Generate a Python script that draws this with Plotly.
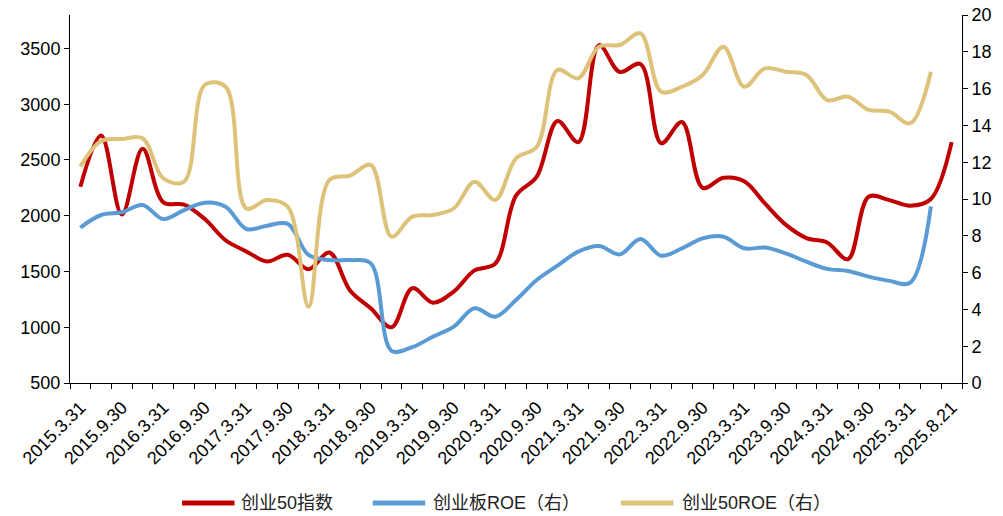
import plotly.graph_objects as go

# quarterly dates, last point is 2025.8.21
dates = ["2015.3.31", "2015.6.30", "2015.9.30", "2015.12.31",
         "2016.3.31", "2016.6.30", "2016.9.30", "2016.12.31",
         "2017.3.31", "2017.6.30", "2017.9.30", "2017.12.31",
         "2018.3.31", "2018.6.30", "2018.9.30", "2018.12.31",
         "2019.3.31", "2019.6.30", "2019.9.30", "2019.12.31",
         "2020.3.31", "2020.6.30", "2020.9.30", "2020.12.31",
         "2021.3.31", "2021.6.30", "2021.9.30", "2021.12.31",
         "2022.3.31", "2022.6.30", "2022.9.30", "2022.12.31",
         "2023.3.31", "2023.6.30", "2023.9.30", "2023.12.31",
         "2024.3.31", "2024.6.30", "2024.9.30", "2024.12.31",
         "2025.3.31", "2025.6.30", "2025.8.21"]

cyb50_index = [2260, 2720, 2010, 2600, 2120, 2100, 1970, 1780, 1680, 1590,
               1650, 1520, 1670, 1330, 1170, 1000, 1350, 1220, 1320, 1510,
               1570, 2180, 2350, 2850, 2660, 3530, 3290, 3360, 2650, 2840,
               2250, 2340, 2310, 2110, 1920, 1800, 1760, 1610, 2170, 2140,
               2090, 2150, 2660]

cyb_roe = [8.45, 9.13, 9.28, 9.67, 8.91, 9.40, 9.80, 9.58, 8.37, 8.55,
           8.65, 6.96, 6.68, 6.68, 6.50, 1.75, 1.95, 2.52, 3.06, 4.06,
           3.60, 4.51, 5.60, 6.38, 7.14, 7.45, 6.99, 7.83, 6.92, 7.32,
           7.86, 7.95, 7.32, 7.36, 7.05, 6.59, 6.20, 6.09, 5.78, 5.55,
           5.45, 9.60]

cyb50_roe = [11.76, 13.15, 13.26, 13.30, 11.12, 10.94, 16.2, 16.1, 9.49, 9.95,
             9.58, 4.15, 11.03, 11.27, 11.85, 7.95, 9.04, 9.13, 9.49, 10.94,
             9.95, 12.21, 12.84, 17.01, 16.56, 18.28, 18.37, 19.0, 15.83, 16.10,
             16.74, 18.28, 16.10, 17.10, 16.92, 16.74, 15.38, 15.56, 14.84, 14.75,
             14.11, 16.92]

names = ["创业50指数", "创业板ROE（右）", "创业50ROE（右）"]
colors = ["#C00000", "#5B9BD5", "#DEC27A"]

font = "Liberation Sans, Arial, Noto Sans CJK SC"

fig = go.Figure()

fig.add_trace(go.Scatter(x=dates, y=cyb50_index, mode="lines", name=names[0],
                         line=dict(color=colors[0], width=4, shape="spline", smoothing=1),
                         yaxis="y"))
fig.add_trace(go.Scatter(x=dates[:len(cyb_roe)], y=cyb_roe, mode="lines", name=names[1],
                         line=dict(color=colors[1], width=4, shape="spline", smoothing=1),
                         yaxis="y2"))
fig.add_trace(go.Scatter(x=dates[:len(cyb50_roe)], y=cyb50_roe, mode="lines", name=names[2],
                         line=dict(color=colors[2], width=4, shape="spline", smoothing=1),
                         yaxis="y2"))

ticktext = [d if i % 2 == 0 else "" for i, d in enumerate(dates)]

# page body has an 8px margin, so the figure is a bit smaller and shifted
fig.update_layout(
    width=995, height=508,
    margin=dict(l=62, r=41, t=7, b=133),
    paper_bgcolor="white", plot_bgcolor="white",
    font=dict(family=font, size=18, color="#000000"),
    showlegend=False,
    xaxis=dict(type="category", tickmode="array", tickvals=dates, ticktext=ticktext,
               tickangle=-45, tickson="boundaries", ticks="outside", ticklen=5,
               tickcolor="black", showline=True, linecolor="black", linewidth=1,
               showgrid=False, zeroline=False, range=[-0.5, len(dates) - 0.5],
               tickfont=dict(size=18), ticklabelstandoff=6, automargin=False),
    yaxis=dict(range=[500, 3800], tickvals=[500, 1000, 1500, 2000, 2500, 3000, 3500],
               ticks="outside", ticklen=5, tickcolor="black", showline=True,
               linecolor="black", linewidth=1, showgrid=False, zeroline=False,
               tickfont=dict(size=18), ticklabeloverflow="allow", automargin=False),
    yaxis2=dict(range=[0, 20], dtick=2, overlaying="y", side="right",
                ticks="outside", ticklen=5, tickcolor="black", showline=True,
                linecolor="black", linewidth=1, showgrid=False, zeroline=False,
                tickfont=dict(size=18), ticklabeloverflow="allow", automargin=False),
)

# legend drawn by hand under the plot
leg_y = -0.326
leg_x = [(0.1256, 0.1844, 0.190), (0.3394, 0.3982, 0.405), (0.6176, 0.6765, 0.6844)]
for (x0, x1, xt), name, c in zip(leg_x, names, colors):
    fig.add_shape(type="line", xref="paper", yref="paper", x0=x0, x1=x1, y0=leg_y, y1=leg_y,
                  line=dict(color=c, width=5))
    fig.add_annotation(xref="paper", yref="paper", x=xt, y=leg_y, text=name,
                       showarrow=False, xanchor="left", yanchor="middle",
                       font=dict(family=font, size=18, color="#222222"))

fig.write_html("out.html")
